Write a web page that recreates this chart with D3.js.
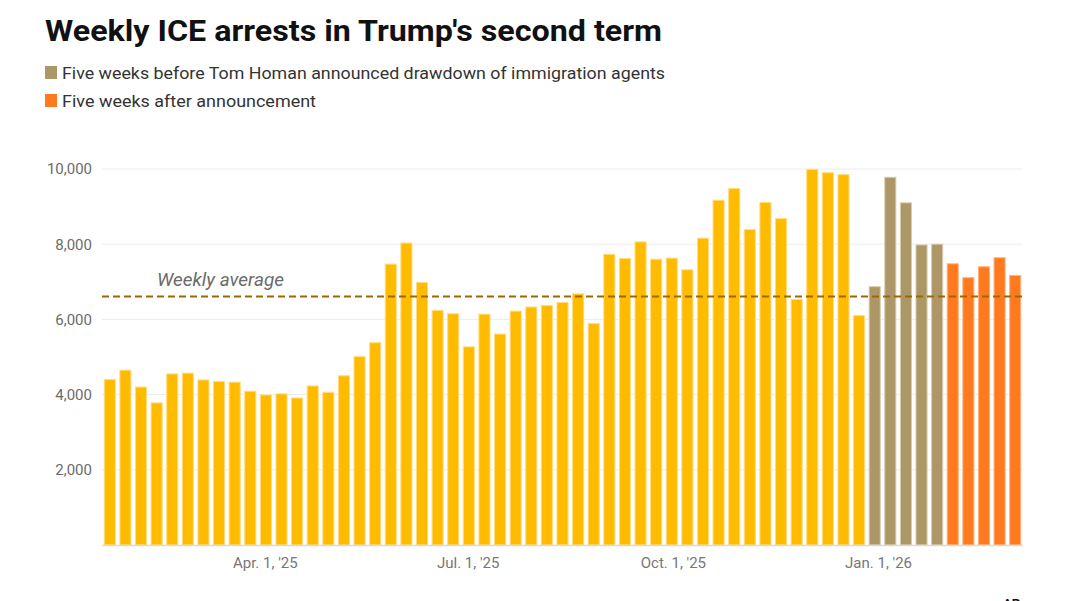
<!DOCTYPE html>
<html>
<head>
<meta charset="utf-8">
<script src="https://cdn.jsdelivr.net/npm/d3@7"></script>
<style>
  body { margin: 0; background: #fff; }
  text { font-family: Roboto, "Noto Sans", sans-serif; }
</style>
</head>
<body>
<div id="chart"></div>
<script>
// week start dates (one bar per week)
const weeks = [
  '2025-01-18','2025-01-25','2025-02-01','2025-02-08','2025-02-15','2025-02-22',
  '2025-03-01','2025-03-08','2025-03-15','2025-03-22','2025-03-29','2025-04-05',
  '2025-04-12','2025-04-19','2025-04-26','2025-05-03','2025-05-10','2025-05-17',
  '2025-05-24','2025-05-31','2025-06-07','2025-06-14','2025-06-21','2025-06-28',
  '2025-07-05','2025-07-12','2025-07-19','2025-07-26','2025-08-02','2025-08-09',
  '2025-08-16','2025-08-23','2025-08-30','2025-09-06','2025-09-13','2025-09-20',
  '2025-09-27','2025-10-04','2025-10-11','2025-10-18','2025-10-25','2025-11-01',
  '2025-11-08','2025-11-15','2025-11-22','2025-11-29','2025-12-06','2025-12-13',
  '2025-12-20','2025-12-27','2026-01-03','2026-01-10','2026-01-17','2026-01-24',
  '2026-01-31','2026-02-07','2026-02-14','2026-02-21','2026-02-28'
];

// weekly arrests
const arrests = [
  4400, 4650, 4200, 3780, 4550, 4570, 4390, 4350, 4330, 4090,
  3990, 4020, 3910, 4230, 4060, 4500, 5010, 5380, 7470, 8030,
  6980, 6240, 6150, 5270, 6140, 5610, 6220, 6330, 6370, 6450,
  6680, 5890, 7730, 7620, 8060, 7600, 7630, 7320, 8160, 9170,
  9480, 8390, 9110, 8680, 6530, 9990, 9900, 9850, 6100, 6870,
  9780, 9100, 7980, 8000, 7480, 7110, 7400, 7640, 7170
];

// period of each week: 0 = normal, 1 = five weeks before, 2 = five weeks after
const periods = [
  0,0,0,0,0,0,0,0,0,0, 0,0,0,0,0,0,0,0,0,0,
  0,0,0,0,0,0,0,0,0,0, 0,0,0,0,0,0,0,0,0,0,
  0,0,0,0,0,0,0,0,0,1, 1,1,1,1,2,2,2,2,2
];

const weeklyAverage = 6610;
const yTicks = [2000, 4000, 6000, 8000, 10000];
const xTicks = ['2025-04-01', '2025-07-01', '2025-10-01', '2026-01-01'];
const xTickLabels = ["Apr. 1, '25", "Jul. 1, '25", "Oct. 1, '25", "Jan. 1, '26"];
const legendLabels = [
  'Five weeks before Tom Homan announced drawdown of immigration agents',
  'Five weeks after announcement'
];

const colors = ['#FFBB00', '#AE9766', '#FF7A1F'];
const strokes = ['#FFDC80', '#D8CBB0', '#FFB480'];

const width = 1070, height = 601;
const margin = { top: 169, right: 47, bottom: 56, left: 102 };

const parse = d3.utcParse('%Y-%m-%d');
const data = weeks.map((w, i) => ({ date: parse(w), value: arrests[i], period: periods[i] }));

const svg = d3.select('#chart')
  .append('svg')
  .attr('width', width)
  .attr('height', height);

// title + legend
svg.append('text')
  .text("Weekly ICE arrests in Trump's second term")
  .attr('x', 45)
  .attr('y', 41)
  .attr('font-size', 29)
  .attr('font-weight', 700)
  .attr('fill', '#111')
  .attr('textLength', 617)
  .attr('lengthAdjust', 'spacingAndGlyphs');

const legendLen = [603, 254];
legendLabels.forEach((lab, i) => {
  const g = svg.append('g').attr('transform', 'translate(45,' + (66 + i * 28) + ')');
  g.append('rect')
    .attr('width', 12)
    .attr('height', 13)
    .attr('fill', colors[i + 1]);
  g.append('text')
    .text(lab)
    .attr('x', 17)
    .attr('y', 12.5)
    .attr('font-size', 17)
    .attr('fill', '#333')
    .attr('textLength', legendLen[i])
    .attr('lengthAdjust', 'spacingAndGlyphs');
});

// scales
const x0 = data[0].date;
const x1 = d3.utcDay.offset(data[data.length - 1].date, 7);
const x = d3.scaleUtc()
  .domain([x0, x1])
  .range([margin.left, width - margin.right]);

const y = d3.scaleLinear()
  .domain([0, 10000])
  .range([height - margin.bottom, margin.top]);

const step = x(d3.utcDay.offset(x0, 7)) - x(x0);
const barW = step * 0.71;

// gridlines
svg.append('g')
  .selectAll('line')
  .data(yTicks)
  .join('line')
  .attr('x1', margin.left)
  .attr('x2', width - margin.right)
  .attr('y1', d => y(d))
  .attr('y2', d => y(d))
  .attr('stroke', '#ececec')
  .attr('stroke-width', 1);

// y axis labels
const yAxis = svg.append('g')
  .attr('transform', 'translate(' + (margin.left - 7) + ',0)')
  .call(d3.axisLeft(y).tickValues(yTicks).tickSize(0).tickFormat(d3.format(',')));
yAxis.select('.domain').remove();
yAxis.selectAll('text')
  .attr('font-size', 15)
  .attr('fill', '#6b6b6b')
  .attr('font-family', 'Roboto, sans-serif');

// bars
svg.append('g')
  .selectAll('rect')
  .data(data)
  .join('rect')
  .attr('x', d => x(d.date) + (step - barW) / 2)
  .attr('width', barW)
  .attr('y', d => y(d.value))
  .attr('height', d => y(0) - y(d.value))
  .attr('fill', d => colors[d.period])
  .attr('stroke', d => strokes[d.period])
  .attr('stroke-width', 1);

// baseline
svg.append('line')
  .attr('x1', margin.left)
  .attr('x2', width - margin.right)
  .attr('y1', y(0) + 0.5)
  .attr('y2', y(0) + 0.5)
  .attr('stroke', '#d9d9d9')
  .attr('stroke-width', 1.5);

// x axis labels
const xAxis = svg.append('g')
  .attr('transform', 'translate(0,' + (y(0) + 9) + ')')
  .call(d3.axisBottom(x)
    .tickValues(xTicks.map(parse))
    .tickSize(0)
    .tickFormat((d, i) => xTickLabels[i]));
xAxis.select('.domain').remove();
xAxis.selectAll('text')
  .attr('font-size', 15)
  .attr('fill', '#777')
  .attr('font-family', 'Roboto, sans-serif');

// weekly average line
svg.append('line')
  .attr('x1', margin.left)
  .attr('x2', width - margin.right)
  .attr('y1', y(weeklyAverage))
  .attr('y2', y(weeklyAverage))
  .attr('stroke', '#9A6A00')
  .attr('stroke-width', 2)
  .attr('stroke-dasharray', '7,4');

svg.append('text')
  .text('Weekly average')
  .attr('x', 157)
  .attr('y', y(weeklyAverage) - 10)
  .attr('font-size', 18)
  .attr('font-style', 'italic')
  .attr('fill', '#6b6b6b')
  .attr('textLength', 127)
  .attr('lengthAdjust', 'spacingAndGlyphs');

// cut-off logo mark in the bottom corner (only its top shows, as in the source)
svg.append('text')
  .text('AP')
  .attr('x', 1003)
  .attr('y', 608)
  .attr('font-size', 13)
  .attr('font-weight', 700)
  .attr('fill', '#111');
</script>
</body>
</html>
